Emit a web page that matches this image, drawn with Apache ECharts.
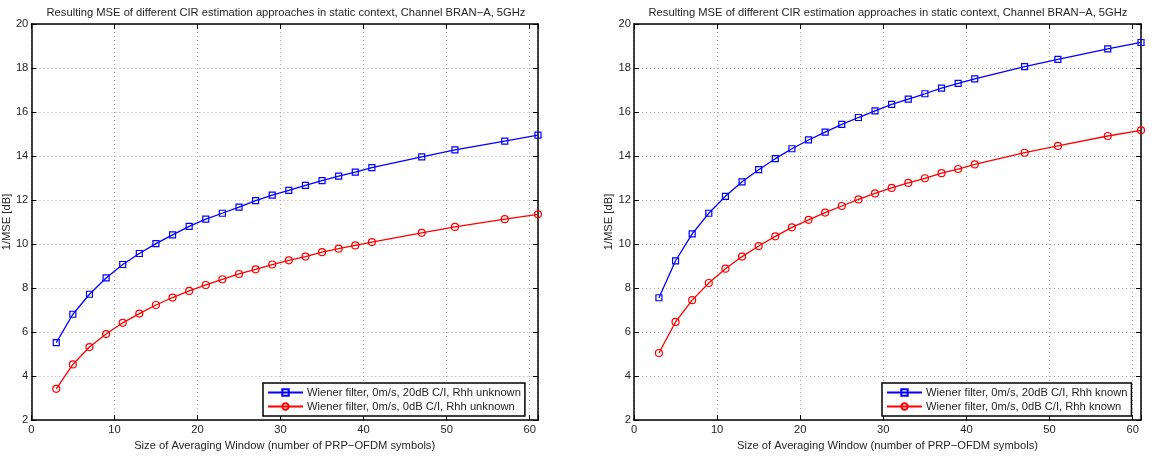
<!DOCTYPE html>
<html>
<head>
<meta charset="utf-8">
<script src="https://cdn.jsdelivr.net/npm/echarts@6/dist/echarts.min.js"></script>
<style>
html,body{margin:0;padding:0;background:#fff;}
#chart{width:1168px;height:456px;}
</style>
</head>
<body>
<div id="chart"></div>
<script>
// ---- data ----
const windowSizes = [3,5,7,9,11,13,15,17,19,21,23,25,27,29,31,33,35,37,39,41,47,51,57,61];
const leftBlue  = [5.52,6.81,7.72,8.46,9.07,9.57,10.02,10.42,10.80,11.13,11.40,11.68,11.97,12.22,12.44,12.67,12.88,13.09,13.27,13.47,13.96,14.28,14.68,14.95];
const leftRed   = [3.42,4.53,5.32,5.91,6.42,6.84,7.23,7.57,7.87,8.14,8.40,8.64,8.85,9.07,9.26,9.43,9.63,9.79,9.94,10.09,10.51,10.78,11.13,11.35];
const rightBlue = [7.56,9.24,10.46,11.40,12.17,12.83,13.38,13.88,14.33,14.73,15.09,15.44,15.75,16.05,16.35,16.59,16.83,17.09,17.30,17.51,18.06,18.39,18.87,19.16];
const rightRed  = [5.05,6.46,7.45,8.23,8.88,9.43,9.91,10.35,10.76,11.10,11.43,11.73,12.03,12.30,12.55,12.78,12.99,13.22,13.41,13.62,14.15,14.46,14.91,15.17];
const leftNames  = ['Wiener filter, 0m/s, 20dB C/I, Rhh unknown','Wiener filter, 0m/s, 0dB C/I, Rhh unknown'];
const rightNames = ['Wiener filter, 0m/s, 20dB C/I, Rhh known','Wiener filter, 0m/s, 0dB C/I, Rhh known'];
const titleText = 'Resulting MSE of different CIR estimation approaches in static context, Channel BRAN\u2212A, 5GHz';
const xName = 'Size of Averaging Window (number of PRP\u2212OFDM symbols)';
const yName = '1/MSE [dB]';
const xMin = 0, xMax = 61, xStep = 10;
const yMin = 2, yMax = 20, yStep = 2;

// ---- chart ----
const FONT = '"Liberation Sans", Arial, sans-serif';
const FS = 11.2;
const TXT = '#262626';
const BLUE = '#0000ff', RED = '#ff0000';
const chart = echarts.init(document.getElementById('chart'));

function pairs(xs, ys){ return xs.map((x,i)=>[x, ys[i]]); }

const gridLine = {show:true, lineStyle:{color:'#a8a8a8', type:[1,3], width:1}};
function xAxes(gi){
  return [
    {gridIndex:gi, type:'value', min:xMin, max:xMax, interval:xStep, position:'bottom',
     name:xName, nameLocation:'middle', nameGap:16,
     nameTextStyle:{fontFamily:FONT, fontSize:FS, color:TXT},
     axisLine:{show:true, onZero:false, lineStyle:{color:'#000', width:1.5}},
     axisTick:{show:true, inside:true, length:5, lineStyle:{color:'#000'}},
     axisLabel:{margin:4, fontFamily:FONT, fontSize:FS, color:TXT,
       formatter:v=> (v % xStep === 0 ? String(v) : '')},
     splitLine:gridLine},
    {gridIndex:gi, type:'value', min:xMin, max:xMax, interval:xStep, position:'top',
     axisLine:{show:true, onZero:false, lineStyle:{color:'#000', width:1.5}},
     axisTick:{show:true, inside:true, length:5, lineStyle:{color:'#000'}},
     axisLabel:{show:false}, splitLine:{show:false}}
  ];
}
function yAxes(gi){
  return [
    {gridIndex:gi, type:'value', min:yMin, max:yMax, interval:yStep, position:'left',
     name:yName, nameLocation:'middle', nameGap:17, nameRotate:90,
     nameTextStyle:{fontFamily:FONT, fontSize:FS, color:TXT},
     axisLine:{show:true, onZero:false, lineStyle:{color:'#000', width:1.5}},
     axisTick:{show:true, inside:true, length:5, lineStyle:{color:'#000'}},
     axisLabel:{margin:3, fontFamily:FONT, fontSize:FS, color:TXT},
     splitLine:gridLine},
    {gridIndex:gi, type:'value', min:yMin, max:yMax, interval:yStep, position:'right',
     axisLine:{show:true, onZero:false, lineStyle:{color:'#000', width:1.5}},
     axisTick:{show:true, inside:true, length:5, lineStyle:{color:'#000'}},
     axisLabel:{show:false}, splitLine:{show:false}}
  ];
}
function lineSeries(name, xi, yi, data, color, symbol, size){
  return {name, type:'line', xAxisIndex:xi, yAxisIndex:yi, data,
    symbol, symbolSize:size, showAllSymbol:true, animation:false,
    color:color,
    lineStyle:{color, width:1.3},
    itemStyle:{color:'rgba(255,255,255,0)', borderColor:color, borderWidth:1.2},
    emphasis:{disabled:true}, z:5};
}
function legend(names, left, top){
  return {data:names, orient:'vertical', left, top,
    backgroundColor:'#fff', borderColor:'#000', borderWidth:1.5, borderRadius:0,
    padding:[4,4,4,4], itemGap:3, itemWidth:35, itemHeight:8,
    selectedMode:false,
    textStyle:{fontFamily:FONT, fontSize:FS, color:TXT, padding:[0,0,0,-1]}};
}

const option = {
  backgroundColor:'#fff',
  animation:false,
  grid:[
    {left:31, top:24, width:507, height:400, containLabel:false},
    {left:634, top:24, width:507, height:400, containLabel:false}
  ],
  xAxis:[...xAxes(0), ...xAxes(1)],
  yAxis:[...yAxes(0), ...yAxes(1)],
  legend:[legend(leftNames, 263, 383), legend(rightNames, 882, 383)],
  graphic:[
    {type:'text', x:286, y:13, style:{text:titleText, fontFamily:FONT, fontSize:FS, fill:TXT, textAlign:'center', textVerticalAlign:'middle'}},
    {type:'text', x:888, y:13, style:{text:titleText, fontFamily:FONT, fontSize:FS, fill:TXT, textAlign:'center', textVerticalAlign:'middle'}}
  ],
  series:[
    lineSeries(leftNames[0], 0, 0, pairs(windowSizes, leftBlue), BLUE, 'rect', 6),
    lineSeries(leftNames[1], 0, 0, pairs(windowSizes, leftRed), RED, 'circle', 7),
    lineSeries(rightNames[0], 2, 2, pairs(windowSizes, rightBlue), BLUE, 'rect', 6),
    lineSeries(rightNames[1], 2, 2, pairs(windowSizes, rightRed), RED, 'circle', 7)
  ]
};
chart.setOption(option);
</script>
</body>
</html>
